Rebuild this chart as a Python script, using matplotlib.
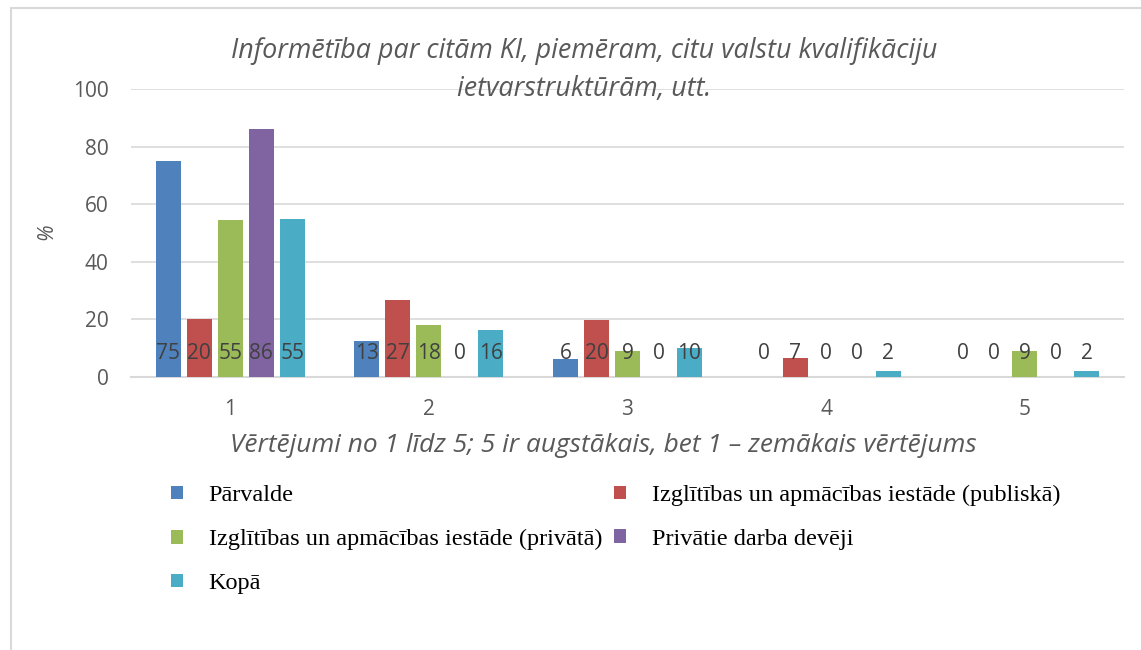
import matplotlib
matplotlib.use('Agg')
import matplotlib.pyplot as plt
from matplotlib.patches import Patch, Rectangle
import numpy as np

categories = ['1', '2', '3', '4', '5']
series_names = [
    'Pārvalde',
    'Izglītības un apmācības iestāde (publiskā)',
    'Izglītības un apmācības iestāde (privātā)',
    'Privātie darba devēji',
    'Kopā',
]
parvalde = [75, 12.6, 6.3, 0, 0]
izgl_publ = [20, 26.7, 19.9, 6.7, 0]
izgl_priv = [54.6, 18.2, 9.1, 0, 9.1]
privatie = [86, 0, 0, 0, 0]
kopa = [55, 16.4, 10.1, 2.1, 2.1]
colors = ['#4F81BD', '#C0504D', '#9BBB59', '#8064A2', '#4BACC6']

title = 'Informētība par citām KI, piemēram, citu valstu kvalifikāciju\nietvarstruktūrām, utt.'
xlabel = 'Vērtējumi no 1 līdz 5; 5 ir augstākais, bet 1 – zemākais vērtējums'

gray = '#595959'
sans = ['Open Sans', 'DejaVu Sans']

fig = plt.figure(figsize=(11.41, 6.5), dpi=100)
fig.patches.append(Rectangle((11 / 1141, -0.1), 1.2, 1.1 - 8 / 650, transform=fig.transFigure,
                             fill=False, edgecolor='#d9d9d9', linewidth=1.5))

ax = fig.add_axes([131 / 1141, 1 - 377 / 650, (1124 - 131) / 1141, (377 - 89) / 650])

data = [parvalde, izgl_publ, izgl_priv, privatie, kopa]
x = np.arange(len(categories))
step = 0.156
width = 0.126
handles = []
for i, vals in enumerate(data):
    pos = x + (i - 2) * step
    ax.bar(pos, vals, width, color=colors[i], zorder=3)
    for p, v in zip(pos, vals):
        ax.text(p, 8.2, '%.0f' % v, ha='center', va='center', fontsize=15,
                color='#404040', family=sans, zorder=4)
    handles.append(Patch(facecolor=colors[i], label=series_names[i]))

ax.set_xlim(-0.5, 4.5)
ax.set_ylim(0, 100)
ax.set_yticks([0, 20, 40, 60, 80, 100])
ax.set_xticks(x)
ax.set_xticklabels(categories)
ax.grid(axis='y', color='#d9d9d9', linewidth=1.2, zorder=0)
ax.tick_params(length=0, labelsize=15, labelcolor=gray)
ax.tick_params(axis='y', pad=16)
ax.tick_params(axis='x', pad=16)
for lab in ax.get_xticklabels() + ax.get_yticklabels():
    lab.set_family(sans)
for s in ['top', 'right', 'left']:
    ax.spines[s].set_visible(False)
ax.spines['bottom'].set_color('#d9d9d9')
ax.spines['bottom'].set_linewidth(1.5)

fig.text(584 / 1141, 1 - 70 / 650, title, ha='center', va='center', fontsize=19.4,
         style='italic', color=gray, family=sans, linespacing=1.45)
fig.text(603 / 1141, 1 - 446 / 650, xlabel, ha='center', va='center', fontsize=18.9,
         style='italic', color=gray, family=sans)
fig.text(47 / 1141, 1 - 232 / 650, '%', ha='center', va='center', fontsize=15,
         style='italic', color=gray, family=sans, rotation=90)

order = [0, 2, 4, 1, 3]
leg = fig.legend([handles[k] for k in order], [series_names[k] for k in order],
                 loc='upper left', bbox_to_anchor=(171 / 1141, 1 - 485 / 650), ncol=2,
                 frameon=False, prop={'family': ['Liberation Serif', 'DejaVu Serif'], 'size': 17.5},
                 handlelength=0.5, handleheight=0.5, handletextpad=1.05,
                 labelspacing=0.94, columnspacing=0.5, borderaxespad=0, borderpad=0)
for t in leg.get_texts():
    t.set_color('#000000')

fig.savefig('out.png', dpi=100)
